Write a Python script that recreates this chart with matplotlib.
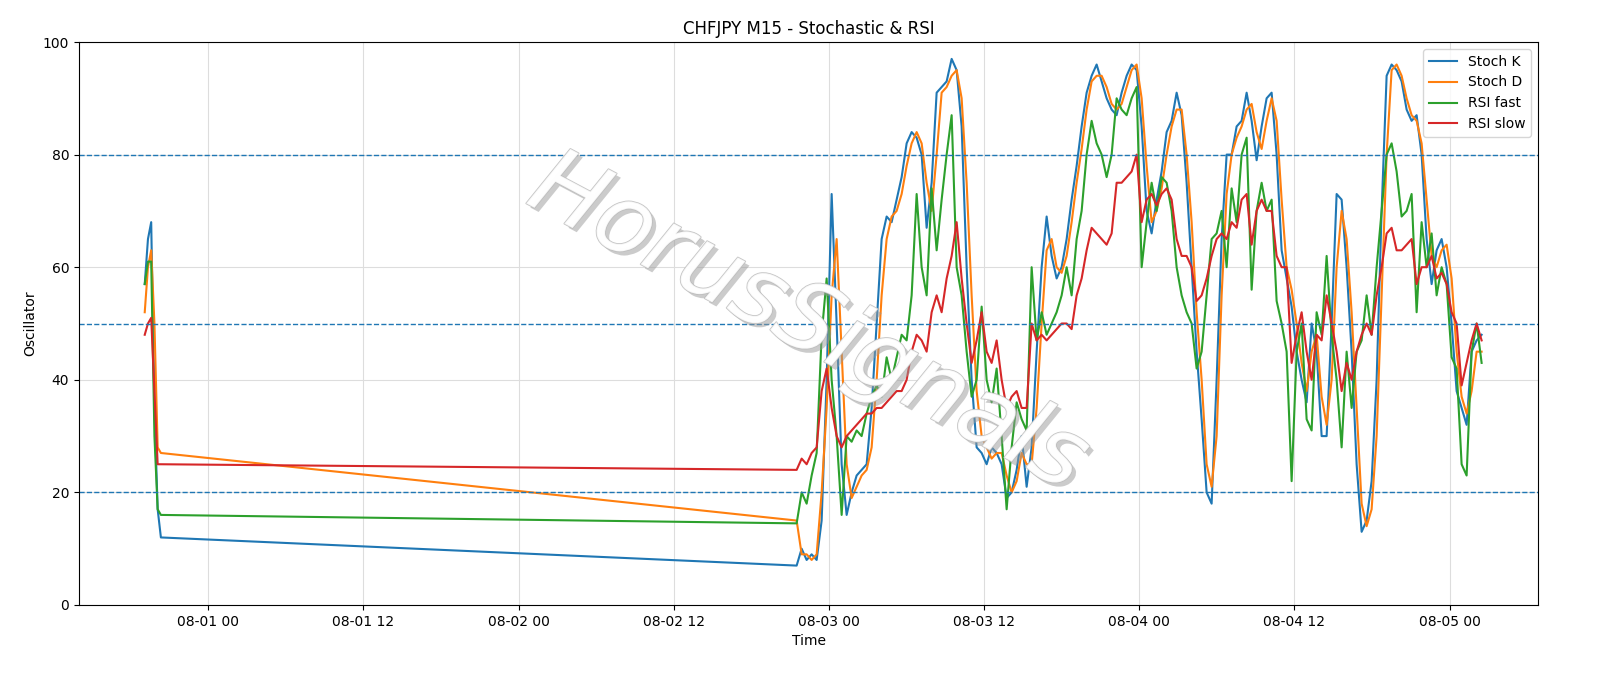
import matplotlib
matplotlib.use("Agg")
import matplotlib.pyplot as plt
import matplotlib.patheffects as pe
import matplotlib.dates as mdates
import pandas as pd
import numpy as np

# early segment (15-min bars)
k_early = [57, 65, 68, 35, 17, 12]
d_early = [52, 60, 63, 50, 28, 27]
rf_early = [57, 61, 61, 30, 17, 16]
rs_early = [48, 50, 51, 38, 25, 25]

stoch_k = [7,10,8,9,8,15,40,73,50,25,16,20,23,24,25,35,50,65,69,68,72,76,82,84,83,80,67,75,91,92,93,97,95,85,60,40,28,27,25,28,27,25,19,20,24,30,21,28,45,60,69,62,58,60,65,72,78,85,91,94,96,93,90,88,87,91,94,96,95,85,70,66,72,77,84,86,91,87,75,60,45,33,20,18,40,65,80,80,85,86,91,86,79,85,90,91,80,63,58,53,45,40,36,50,45,30,30,50,73,72,60,45,25,13,15,22,40,70,94,96,95,93,88,86,87,80,65,57,63,65,60,50,38,35,32,45,47,48]
stoch_d = [15,9,9,8,9,20,35,55,65,45,25,19,21,23,24,28,40,55,65,69,70,73,78,82,84,82,75,70,80,91,92,94,95,90,75,55,38,30,28,26,27,27,23,20,22,27,25,25,35,50,63,65,60,59,62,68,75,81,88,93,94,94,92,89,88,89,92,95,96,90,78,68,70,74,80,85,88,88,80,68,52,40,25,21,30,55,73,80,83,85,88,89,84,81,86,90,86,72,60,56,50,43,38,45,48,37,32,40,60,70,65,52,35,18,14,17,30,55,80,95,96,94,90,87,86,82,72,62,60,63,64,58,45,37,34,38,45,45]
rsi_fast = [14.5,20,18,23,27,48,58,40,30,16,30,29,31,30,34,37,39,37,44,40,44,48,47,55,73,60,55,74,63,72,80,87,60,55,45,37,40,53,40,36,42,30,17,28,36,33,31,60,47,52,48,50,52,55,60,55,65,70,80,86,82,80,76,80,90,88,87,90,92,60,68,75,70,76,75,70,60,55,52,50,42,45,55,65,66,70,60,74,68,80,83,56,70,75,70,72,54,50,45,22,45,50,33,31,52,48,62,48,40,28,45,35,45,47,55,48,60,70,80,82,77,69,70,73,52,68,60,66,55,60,57,44,42,25,23,45,50,43]
rsi_slow = [24,26,25,27,28,38,42,35,30,28,30,31,32,33,34,34,35,35,36,37,38,38,40,45,48,47,45,52,55,52,58,62,68,58,50,43,47,52,45,43,47,40,35,37,38,35,35,50,47,48,47,48,49,50,50,49,55,58,63,67,66,65,64,66,75,75,76,77,80,68,72,73,71,73,74,72,65,62,62,60,54,55,58,62,65,66,65,68,67,72,73,64,70,72,70,70,62,60,60,43,48,52,45,40,48,47,55,50,45,38,43,40,45,48,50,48,55,60,66,67,63,63,64,65,57,60,60,62,58,59,57,52,50,39,43,47,50,47]

n = min(len(stoch_k), len(stoch_d), len(rsi_fast), len(rsi_slow))
t_early = pd.date_range("2025-07-31 19:05", periods=len(k_early), freq="15min")
t_late = pd.Timestamp("2025-08-02 21:30") + pd.to_timedelta(np.arange(n) * 23.2, unit="min")
t = t_early.append(pd.DatetimeIndex(t_late))

K = k_early + stoch_k[:n]
D = d_early + stoch_d[:n]
RF = rf_early + rsi_fast[:n]
RS = rs_early + rsi_slow[:n]

fig = plt.figure(figsize=(16, 6.86), dpi=100)
ax = fig.add_axes([79/1600, 1-605/686, (1538-79)/1600, (605-42)/686])
ax.plot(t, K, color="C0", lw=1.5, label="Stoch K")
ax.plot(t, D, color="C1", lw=1.5, label="Stoch D")
ax.plot(t, RF, color="C2", lw=1.5, label="RSI fast")
ax.plot(t, RS, color="C3", lw=1.5, label="RSI slow")
for lv in (20, 50, 80):
    ax.axhline(lv, color="C0", ls="--", lw=1)
ax.grid(True, color="#dddddd", lw=0.8)
ax.set_ylim(0, 100)
ax.set_title("CHFJPY M15 - Stochastic & RSI", fontsize=12)
ax.set_xlabel("Time")
ax.set_ylabel("Oscillator")
ax.xaxis.set_major_locator(mdates.HourLocator(byhour=[0, 12]))
ax.xaxis.set_major_formatter(mdates.DateFormatter("%m-%d %H"))
ax.set_xlim(pd.Timestamp("2025-07-31 14:00"), pd.Timestamp("2025-08-05 06:50"))
ax.legend(loc="upper right")
ax.text(0.5, 0.5, "HorusSignals", transform=ax.transAxes, fontsize=68, style="italic",
        color="white", alpha=0.85, rotation=-28, ha="center", va="center",
        path_effects=[pe.withSimplePatchShadow(offset=(3, -3), shadow_rgbFace="#999999", alpha=0.5),
                      pe.Stroke(linewidth=1.2, foreground="#bbbbbb"), pe.Normal()])
fig.savefig("out.png", dpi=100)
